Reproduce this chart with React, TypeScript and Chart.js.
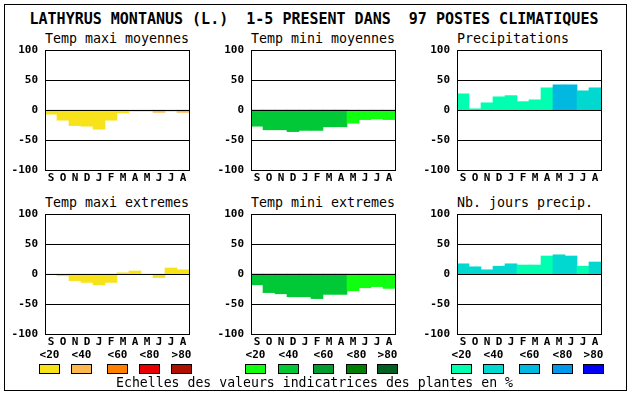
import React, { useEffect, useRef } from "react";
import { Chart, registerables } from "chart.js";

Chart.register(...registerables);

const TITLE = "LATHYRUS MONTANUS (L.)  1-5 PRESENT DANS  97 POSTES CLIMATIQUES";
const MONTHS = ["S", "O", "N", "D", "J", "F", "M", "A", "M", "J", "J", "A"];
const Y_TICKS = [-100, -50, 0, 50, 100];
const CLASS_LABELS = ["<20", "<40", "<60", "<80", ">80"];
const FOOTER = "Echelles des valeurs indicatrices des plantes en %";

const YELLOWS = ["#f8e21a", "#ffb84e", "#ff8000", "#e80000", "#b01000"];
const GREENS = ["#10ff10", "#00c836", "#009c30", "#008000", "#006020"];
const BLUES = ["#00ffb0", "#00d8d0", "#00b8e0", "#0098e8", "#0000f8"];

const TMAX_MOY = [-7, -17, -26, -27, -32, -17, -5, -2, -2, -4, -2, -4];
const TMAX_MOY_CLASS = [0, 0, 0, 0, 0, 0, 0, 0, 0, 1, 0, 1];
const TMIN_MOY = [-27, -33, -33, -36, -34, -34, -28, -28, -22, -16, -15, -16];
const TMIN_MOY_CLASS = [1, 1, 1, 1, 1, 1, 1, 1, 0, 0, 0, 0];
const PRECIP = [27, 2, 12, 22, 24, 14, 17, 37, 42, 42, 32, 37];
const PRECIP_CLASS = [0, 0, 0, 0, 0, 0, 0, 0, 2, 2, 1, 1];
const TMAX_EXT = [0, -3, -11, -14, -18, -14, 2, 5, 0, -6, 10, 7];
const TMAX_EXT_CLASS = [0, 0, 0, 0, 0, 0, 0, 0, 0, 0, 0, 0];
const TMIN_EXT = [-18, -31, -33, -38, -38, -41, -34, -34, -28, -23, -21, -24];
const TMIN_EXT_CLASS = [1, 1, 1, 1, 1, 1, 1, 1, 0, 0, 0, 0];
const NB_JOURS = [17, 12, 7, 13, 17, 15, 15, 30, 32, 30, 13, 20];
const NB_JOURS_CLASS = [1, 1, 1, 1, 1, 0, 0, 0, 1, 1, 0, 1];

const MONO = "'DejaVu Sans Mono', monospace";

const framePlugin = {
  id: "frameGrid",
  afterDatasetsDraw(chart: any) {
    const { ctx, chartArea } = chart;
    const y = chart.scales.y;
    ctx.save();
    ctx.strokeStyle = "#000";
    ctx.lineWidth = 1;
    ctx.beginPath();
    for (const v of [50, 0, -50]) {
      const py = Math.round(y.getPixelForValue(v)) + 0.5;
      ctx.moveTo(chartArea.left, py);
      ctx.lineTo(chartArea.right, py);
    }
    ctx.stroke();
    ctx.strokeRect(
      Math.round(chartArea.left) + 0.5,
      Math.round(chartArea.top) + 0.5,
      Math.round(chartArea.right - chartArea.left),
      Math.round(chartArea.bottom - chartArea.top)
    );
    ctx.restore();
  },
};

type PanelProps = {
  left: number;
  top: number;
  title: string;
  values: number[];
  classes: number[];
  palette: string[];
};

const CW = 194;
const CH = 150;
const PL = 45; // plot left offset inside canvas
const PT = 10; // plot top offset inside canvas

function Panel({ left, top, title, values, classes, palette }: PanelProps) {
  const ref = useRef<HTMLCanvasElement | null>(null);
  useEffect(() => {
    if (!ref.current) return;
    const font = { family: MONO, size: 11, weight: "bold" as const };
    const chart = new Chart(ref.current, {
      type: "bar",
      data: {
        labels: MONTHS,
        datasets: [
          {
            data: values,
            backgroundColor: classes.map((c) => palette[c]),
            borderWidth: 0,
            categoryPercentage: 1,
            barPercentage: 1,
          },
        ],
      },
      options: {
        animation: false,
        responsive: false,
        maintainAspectRatio: false,
        devicePixelRatio: 1,
        layout: { padding: { top: PT, right: CW - PL - 144, left: 0, bottom: 0 } },
        plugins: {
          legend: { display: false },
          tooltip: { enabled: false },
          title: { display: false },
        },
        scales: {
          x: {
            grid: { display: false, drawTicks: false },
            border: { display: false },
            ticks: {
              autoSkip: false,
              maxRotation: 0,
              minRotation: 0,
              padding: 2,
              color: "#000",
              font,
            },
            afterFit: (s: any) => {
              s.height = CH - PT - 120;
              s.paddingLeft = 0;
              s.paddingRight = 0;
            },
          },
          y: {
            min: -100,
            max: 100,
            afterBuildTicks: (s: any) => {
              s.ticks = Y_TICKS.map((v) => ({ value: v }));
            },
            grid: { display: false, drawTicks: false },
            border: { display: false },
            ticks: { padding: 7, color: "#000", font },
            afterFit: (s: any) => {
              s.width = PL;
              s.paddingTop = 0;
              s.paddingBottom = 0;
            },
          },
        },
      },
      plugins: [framePlugin],
    });
    return () => chart.destroy();
  }, []);
  return (
    <>
      <div
        style={{
          position: "absolute",
          left: left,
          top: top - 18,
          fontFamily: MONO,
          fontSize: "13.3px",
          lineHeight: "14px",
          whiteSpace: "pre",
          color: "#000",
        }}
      >
        {title}
      </div>
      <canvas
        ref={ref}
        width={CW}
        height={CH}
        style={{
          position: "absolute",
          left: left - PL,
          top: top - PT,
          width: CW,
          height: CH,
        }}
      />
    </>
  );
}

const SWATCH_LEFTS = [
  [39, 71, 107, 139, 171],
  [245, 278, 313, 346, 377],
  [451, 483, 519, 552, 583],
];
const PALETTES = [YELLOWS, GREENS, BLUES];

export default function App() {
  return (
    <div
      style={{
        position: "absolute",
        left: 0,
        top: 0,
        width: 630,
        height: 394,
        background: "#fff",
        overflow: "hidden",
      }}
    >
      <div
        style={{
          position: "absolute",
          left: 4,
          top: 4,
          width: 621,
          height: 385,
          border: "1px solid #000",
        }}
      />
      <div
        style={{
          position: "absolute",
          left: 0,
          top: 11,
          width: 628,
          textAlign: "center",
          fontFamily: MONO,
          fontSize: "15px",
          fontWeight: "bold",
          lineHeight: "16px",
          whiteSpace: "pre",
          color: "#000",
        }}
      >
        {TITLE}
      </div>
      <Panel left={45} top={50} title="Temp maxi moyennes" values={TMAX_MOY} classes={TMAX_MOY_CLASS} palette={YELLOWS} />
      <Panel left={251} top={50} title="Temp mini moyennes" values={TMIN_MOY} classes={TMIN_MOY_CLASS} palette={GREENS} />
      <Panel left={457} top={50} title="Precipitations" values={PRECIP} classes={PRECIP_CLASS} palette={BLUES} />
      <Panel left={45} top={214} title="Temp maxi extremes" values={TMAX_EXT} classes={TMAX_EXT_CLASS} palette={YELLOWS} />
      <Panel left={251} top={214} title="Temp mini extremes" values={TMIN_EXT} classes={TMIN_EXT_CLASS} palette={GREENS} />
      <Panel left={457} top={214} title="Nb. jours precip." values={NB_JOURS} classes={NB_JOURS_CLASS} palette={BLUES} />
      {SWATCH_LEFTS.map((row, g) =>
        row.map((x, i) => (
          <React.Fragment key={g + "-" + i}>
            <div
              style={{
                position: "absolute",
                left: x - 6,
                top: 348,
                width: 33,
                textAlign: "center",
                fontFamily: MONO,
                fontSize: "11px",
                fontWeight: "bold",
                lineHeight: "14px",
                color: "#000",
              }}
            >
              {CLASS_LABELS[i]}
            </div>
            <div
              style={{
                position: "absolute",
                left: x,
                top: 364,
                width: 19,
                height: 8,
                border: "1px solid #000",
                background: PALETTES[g][i],
              }}
            />
          </React.Fragment>
        ))
      )}
      <div
        style={{
          position: "absolute",
          left: 116,
          top: 376,
          fontFamily: MONO,
          fontSize: "13.2px",
          lineHeight: "14px",
          whiteSpace: "pre",
          color: "#000",
        }}
      >
        {FOOTER}
      </div>
    </div>
  );
}
